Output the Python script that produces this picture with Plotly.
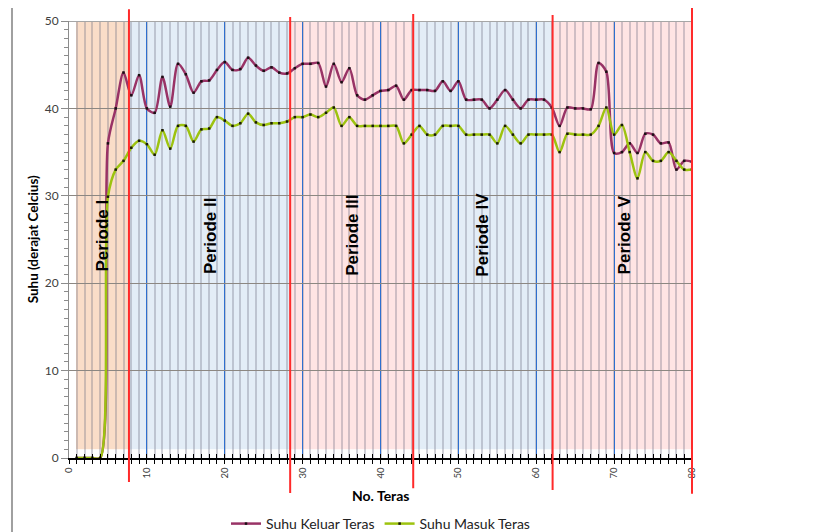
import plotly.graph_objects as go

# ---------------- data ----------------
teras = list(range(1, 81))
suhu_keluar = [0, 0, 0, 0, 36.0, 40.0, 44.1, 41.5, 43.8, 40.0,
               39.5, 43.6, 40.2, 45.1, 43.9, 41.8, 43.1, 43.2, 44.4, 45.3,
               44.4, 44.5, 45.8, 44.9, 44.3, 44.7, 44.1, 44.0, 44.6, 45.1,
               45.1, 45.2, 42.5, 45.1, 43.0, 44.6, 41.5, 41.0, 41.5, 42.0,
               42.1, 42.6, 41.0, 42.1, 42.1, 42.1, 42.0, 43.1, 42.0, 43.1,
               41.0, 41.0, 41.0, 40.0, 41.0, 42.1, 41.0, 40.0, 41.0, 41.0,
               41.0, 40.1, 38.0, 40.1, 40.0, 40.0, 39.9, 45.2, 44.2, 34.9,
               35.0, 36.0, 34.9, 37.1, 37.0, 36.0, 36.1, 33.0, 34.0, 33.9]
suhu_masuk = [0, 0, 0, 0, 29.9, 33.0, 34.0, 35.5, 36.3, 35.9,
              34.7, 37.5, 35.4, 38.0, 38.0, 36.2, 37.6, 37.7, 39.0, 38.6,
              38.0, 38.3, 39.4, 38.4, 38.1, 38.3, 38.3, 38.5, 39.0, 39.0,
              39.3, 39.0, 39.5, 40.1, 38.0, 39.0, 38.0, 38.0, 38.0, 38.0,
              38.0, 38.0, 36.0, 37.0, 38.0, 37.0, 37.0, 38.0, 38.0, 38.0,
              37.0, 37.0, 37.0, 37.0, 36.0, 38.0, 37.0, 36.0, 37.0, 37.0,
              37.0, 37.0, 35.0, 37.1, 37.0, 37.0, 37.0, 38.0, 40.1, 37.0,
              38.1, 35.0, 32.0, 35.0, 34.0, 34.0, 35.0, 34.0, 33.0, 33.0]
periode_labels = ["Periode I", "Periode II", "Periode III", "Periode IV", "Periode V"]
periode_start = [0.9, 7.7, 28.4, 44.2, 62.1]
periode_end = [7.7, 28.4, 44.2, 62.1, 80]
periode_colors = ["#FADDC8", "#E3EDF7", "#FFE4E4", "#E3EDF7", "#FFE4E4"]
label_x = [4.3, 18.1, 36.3, 53.1, 71.3]
x_ticks = [0, 10, 20, 30, 40, 50, 60, 70, 80]
y_ticks = [0, 10, 20, 30, 40, 50]

XMAX = 80.0

fig = go.Figure()
fig.add_trace(go.Scatter(
    x=teras, y=suhu_keluar, name="Suhu Keluar Teras", mode="lines+markers",
    line=dict(color="#993366", width=2.5, shape="spline", smoothing=0.8),
    marker=dict(symbol="square", size=2.5, color="#1a1014"),
))
fig.add_trace(go.Scatter(
    x=teras, y=suhu_masuk, name="Suhu Masuk Teras", mode="lines+markers",
    line=dict(color="#9DC30F", width=2.5, shape="spline", smoothing=0.8),
    marker=dict(symbol="square", size=2.5, color="#1a1a08"),
))
# invisible trace for the overlay axis that draws the inner half of x ticks
fig.add_trace(go.Scatter(x=teras, y=suhu_masuk, xaxis="x2", mode="lines",
                         opacity=0, showlegend=False, hoverinfo="skip"))

shapes = []
for s, e, c in zip(periode_start, periode_end, periode_colors):
    shapes.append(dict(type="rect", xref="x", yref="y", x0=s, x1=e, y0=1, y1=50,
                       fillcolor=c, line=dict(width=0), layer="below"))
# top border of plot
shapes.append(dict(type="line", xref="paper", yref="y", x0=0, x1=1, y0=50, y1=50,
                   line=dict(color="#A6A6A6", width=2)))
# red period boundary lines
red_tops = [1.027, 1.009, 1.016, 1.014, 1.032]
red_bots = [-0.055, -0.080, -0.069, -0.073, -0.082]
for e, t, b in zip(periode_end, red_tops, red_bots):
    shapes.append(dict(type="line", xref="paper", yref="paper", x0=e / XMAX, x1=e / XMAX,
                       y0=b, y1=t, line=dict(color="#FF2A2A", width=2)))
# chart-area border (left and top)
shapes.append(dict(type="line", xref="paper", yref="paper", x0=-0.0915, x1=-0.0915,
                   y0=-0.25, y1=1.032, line=dict(color="#A0A0A0", width=2)))
shapes.append(dict(type="line", xref="paper", yref="paper", x0=-0.0915, x1=1.3,
                   y0=1.032, y1=1.032, line=dict(color="#A0A0A0", width=2)))

annotations = []
for lab, lx in zip(periode_labels, label_x):
    annotations.append(dict(x=lx, y=25.5, xref="x", yref="y", text=lab, showarrow=False,
                            textangle=-90,
                            font=dict(family="Liberation Sans", size=17, color="black", weight="bold")))
annotations.append(dict(x=0.5, y=-0.085, xref="paper", yref="paper", text="No. Teras",
                        showarrow=False, yanchor="middle",
                        font=dict(family="Lato", size=14, color="black", weight="bold")))
annotations.append(dict(x=-0.058, y=0.5, xref="paper", yref="paper",
                        text="Suhu (derajat Celcius)", showarrow=False, textangle=-90,
                        xanchor="center", yanchor="middle",
                        font=dict(family="Lato", size=13.5, color="black", weight="bold")))

fig.update_layout(
    width=811, height=524,
    margin=dict(l=61, r=127, t=13, b=74, autoexpand=False),
    plot_bgcolor="white", paper_bgcolor="white",
    font=dict(family="Lato", color="#404040"),
    shapes=shapes, annotations=annotations,
    showlegend=True,
    legend=dict(orientation="h", x=0.5, xanchor="center", y=-0.151, yanchor="middle",
                font=dict(family="Lato", size=14, color="#222222"), itemwidth=30,
                bgcolor="rgba(0,0,0,0)"),
    xaxis=dict(range=[0, XMAX], tickvals=x_ticks, showgrid=True, gridcolor="#2E6FCF",
               gridwidth=1.2, ticks="outside", ticklen=4, tickcolor="black", tickwidth=1,
               showline=True, linecolor="black", linewidth=1.5, tickangle=-90,
               tickfont=dict(size=9.5, color="#404040"), zeroline=False, automargin=False,
               minor=dict(dtick=1, tick0=0, showgrid=True, gridcolor="rgba(110,110,130,0.32)",
                          gridwidth=1.5, ticks="outside", ticklen=4, tickcolor="black")),
    xaxis2=dict(range=[0, XMAX], overlaying="x", anchor="y", side="bottom",
                showgrid=False, showticklabels=False, ticks="inside", dtick=1, tick0=0,
                ticklen=4, tickcolor="black", tickwidth=1, showline=False, zeroline=False,
                automargin=False),
    yaxis=dict(range=[0, 50], tickvals=y_ticks, showgrid=True, gridcolor="#8C8782",
               gridwidth=1, ticks="outside", ticklen=7, tickcolor="#8C8C8C",
               showline=True, linecolor="#8C8C8C", linewidth=1, automargin=False,
               tickfont=dict(size=12, color="#404040"), zeroline=False,
               minor=dict(dtick=1, tick0=0, ticks="outside", ticklen=4,
                          tickcolor="#8C8C8C", showgrid=False)),
)

fig.write_html("out.html")
